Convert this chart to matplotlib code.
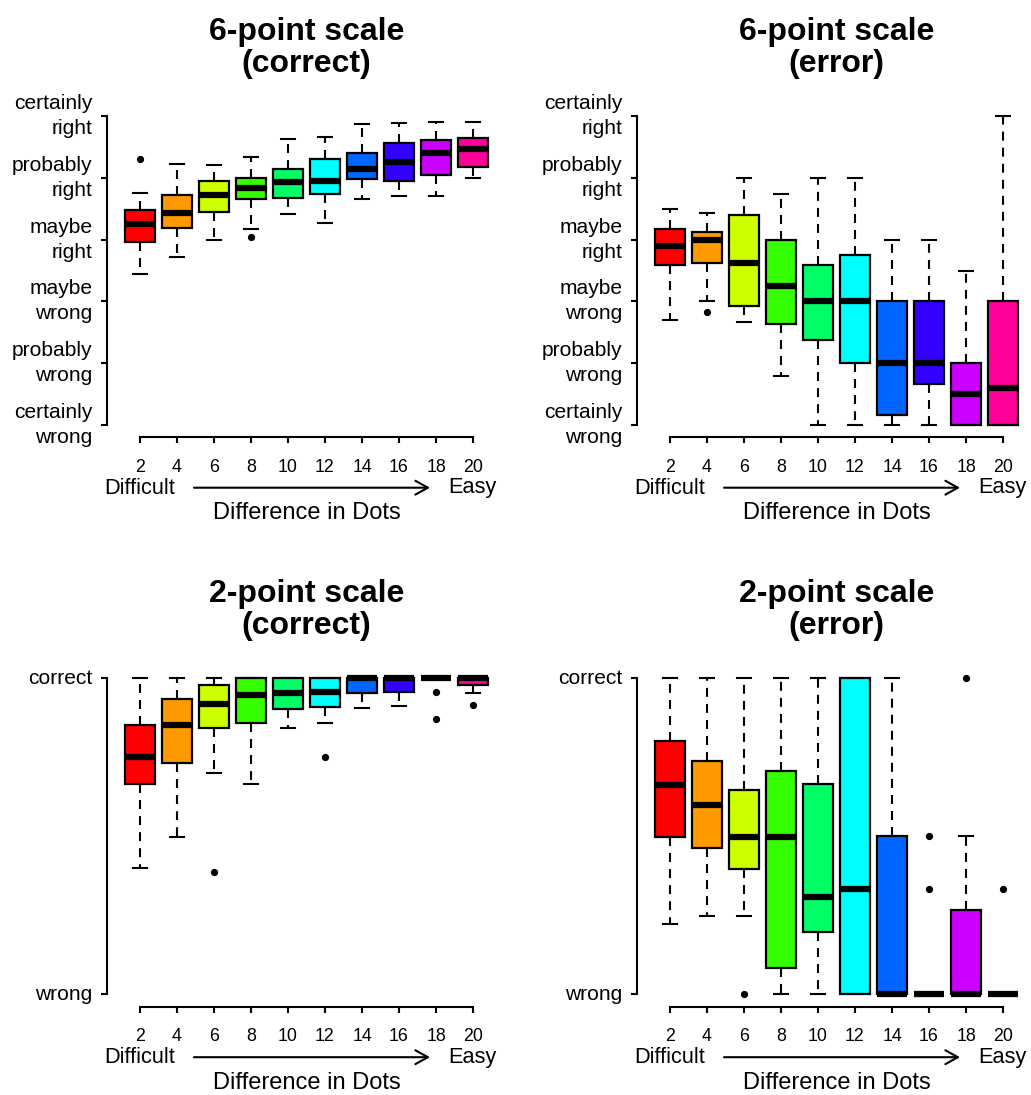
import matplotlib
matplotlib.use('Agg')
import matplotlib.pyplot as plt

plt.rcParams['font.family'] = ['Liberation Sans', 'DejaVu Sans']

# difficulty levels (difference in dots)
dots = [2, 4, 6, 8, 10, 12, 14, 16, 18, 20]
colors = ['#FF0000', '#FF9900', '#CCFF00', '#33FF00', '#00FF66',
          '#00FFFF', '#0066FF', '#3300FF', '#CC00FF', '#FF0099']

six_labels = ['certainly\nwrong', 'probably\nwrong', 'maybe\nwrong',
              'maybe\nright', 'probably\nright', 'certainly\nright']
two_labels = ['wrong', 'correct']

# 6-point scale, correct trials
c6_whislo = [3.45, 3.72, 3.99, 4.17, 4.41, 4.27, 4.65, 4.71, 4.71, 4.99]
c6_q1 = [3.96, 4.19, 4.44, 4.66, 4.68, 4.73, 4.98, 4.95, 5.05, 5.18]
c6_med = [4.26, 4.43, 4.72, 4.83, 4.93, 4.95, 5.15, 5.25, 5.40, 5.46]
c6_q3 = [4.48, 4.72, 4.95, 4.99, 5.14, 5.30, 5.40, 5.57, 5.61, 5.64]
c6_whishi = [4.76, 5.22, 5.21, 5.33, 5.62, 5.66, 5.87, 5.89, 5.91, 5.91]
c6_fliers = [[5.30], [], [], [4.05], [], [], [], [], [], []]

# 6-point scale, error trials
e6_whislo = [2.70, 3.00, 2.67, 1.80, 1.00, 1.00, 1.00, 1.00, 1.00, 1.00]
e6_q1 = [3.59, 3.62, 2.92, 2.63, 2.38, 2.00, 1.17, 1.66, 1.00, 1.00]
e6_med = [3.90, 4.00, 3.62, 3.25, 3.00, 3.00, 2.00, 2.00, 1.50, 1.60]
e6_q3 = [4.17, 4.13, 4.40, 4.00, 3.59, 3.75, 3.00, 3.00, 2.00, 3.00]
e6_whishi = [4.50, 4.43, 5.00, 4.74, 5.00, 5.00, 4.00, 4.00, 3.50, 6.00]
e6_fliers = [[], [2.83], [], [], [], [], [], [], [], []]

# 2-point scale, correct trials
c2_whislo = [0.399, 0.499, 0.699, 0.666, 0.842, 0.858, 0.907, 0.914, 1.0, 0.953]
c2_q1 = [0.666, 0.731, 0.844, 0.858, 0.902, 0.910, 0.955, 0.957, 1.0, 0.979]
c2_med = [0.750, 0.851, 0.919, 0.947, 0.953, 0.956, 1.0, 1.0, 1.0, 1.0]
c2_q3 = [0.852, 0.935, 0.979, 1.0, 1.0, 1.0, 1.0, 1.0, 1.0, 1.0]
c2_whishi = [1.0, 1.0, 1.0, 1.0, 1.0, 1.0, 1.0, 1.0, 1.0, 1.0]
c2_fliers = [[], [], [0.388], [], [], [0.750], [], [], [0.958, 0.870], [0.916]]

# 2-point scale, error trials
e2_whislo = [0.222, 0.249, 0.249, 0.0, 0.0, 0.0, 0.0, 0.0, 0.0, 0.0]
e2_q1 = [0.499, 0.462, 0.398, 0.082, 0.198, 0.0, 0.0, 0.0, 0.0, 0.0]
e2_med = [0.662, 0.599, 0.499, 0.499, 0.309, 0.332, 0.0, 0.0, 0.0, 0.0]
e2_q3 = [0.803, 0.739, 0.645, 0.708, 0.666, 1.0, 0.5, 0.0, 0.267, 0.0]
e2_whishi = [1.0, 1.0, 1.0, 1.0, 1.0, 1.0, 1.0, 0.0, 0.5, 0.0]
e2_fliers = [[], [], [0.0], [], [], [], [], [0.5, 0.333], [1.0], [0.333]]

W, H = 1031, 1095
fig = plt.figure(figsize=(W / 100, H / 100), dpi=100)

panels = [
    ('6-point scale\n(correct)', (c6_whislo, c6_q1, c6_med, c6_q3, c6_whishi, c6_fliers), 6),
    ('6-point scale\n(error)', (e6_whislo, e6_q1, e6_med, e6_q3, e6_whishi, e6_fliers), 6),
    ('2-point scale\n(correct)', (c2_whislo, c2_q1, c2_med, c2_q3, c2_whishi, c2_fliers), 2),
    ('2-point scale\n(error)', (e2_whislo, e2_q1, e2_med, e2_q3, e2_whishi, e2_fliers), 2),
]

# axes rectangles in pixels (left, top, right, bottom) measured from top-left
rects = [(106.7, 103.6, 506.3, 437.4), (636.7, 103.6, 1036.3, 437.4),
         (106.7, 665.7, 506.3, 1006.9), (636.7, 665.7, 1036.3, 1006.9)]

for (title, stats_src, scale), (l, t, r, b) in zip(panels, rects):
    ax = fig.add_axes([l / W, 1 - b / H, (r - l) / W, (b - t) / H])
    whislo, q1, med, q3, whishi, fliers = stats_src
    stats = []
    for i in range(len(dots)):
        stats.append(dict(whislo=whislo[i], q1=q1[i], med=med[i], q3=q3[i],
                          whishi=whishi[i], fliers=fliers[i]))
    bp = ax.bxp(stats, positions=range(1, 11), widths=0.8, patch_artist=True,
                boxprops=dict(edgecolor='black', linewidth=1.6),
                medianprops=dict(color='black', linewidth=4.5, solid_capstyle='butt'),
                whiskerprops=dict(color='black', linewidth=1.5, linestyle=(0, (4.3, 3.4))),
                capprops=dict(color='black', linewidth=1.5),
                flierprops=dict(marker='o', markerfacecolor='black', markeredgecolor='black',
                                markersize=4.2, linestyle='none'))
    for patch, c in zip(bp['boxes'], colors):
        patch.set_facecolor(c)

    ax.set_xlim(0.1, 10.9)
    if scale == 6:
        ax.set_ylim(0.8, 6.2)
        ax.set_yticks(range(1, 7))
        ax.set_yticklabels(six_labels)
        ax.spines['left'].set_bounds(1, 6)
    else:
        ax.set_ylim(-0.04, 1.04)
        ax.set_yticks([0, 1])
        ax.set_yticklabels(two_labels)
        ax.spines['left'].set_bounds(0, 1)
    ax.set_xticks(range(1, 11))
    ax.set_xticklabels([str(d) for d in dots])
    ax.spines['bottom'].set_bounds(1, 10)
    for s in ['top', 'right']:
        ax.spines[s].set_visible(False)
    for s in ['left', 'bottom']:
        ax.spines[s].set_linewidth(1.5)
    ax.tick_params(axis='y', length=4, width=1.5, pad=6.5, labelsize=15.1)
    ax.tick_params(axis='x', length=4, width=1.5, pad=11.5, labelsize=12.8)
    for lab in ax.get_yticklabels():
        lab.set_va('center')
        lab.set_linespacing(1.4)

    # annotations below the axes, in figure pixels (origin bottom-left)
    yb = H - b
    fig.text((l - 2.7) / W, (yb - 50.6) / H, 'Difficult', ha='left', va='center', fontsize=15.7)
    fig.text((l + 390.3) / W, (yb - 50.6) / H, 'Easy', ha='right', va='center', fontsize=15.7)
    ax.annotate('', xy=(l + 323.3, yb - 50.3), xytext=(l + 87.3, yb - 50.3),
                xycoords='figure pixels', textcoords='figure pixels',
                arrowprops=dict(arrowstyle='->,head_length=0.45,head_width=0.25',
                                mutation_scale=20, linewidth=1.5, color='black',
                                shrinkA=0, shrinkB=0))
    fig.text((l + 199.8) / W, (yb - 76) / H, 'Difference in Dots', ha='center',
             va='center', fontsize=17)
    fig.text((l + 199.8) / W, (H - t + 56) / H, title, ha='center', va='center',
             fontsize=23, fontweight='bold', linespacing=1.08)

fig.savefig('out.png', dpi=100)
